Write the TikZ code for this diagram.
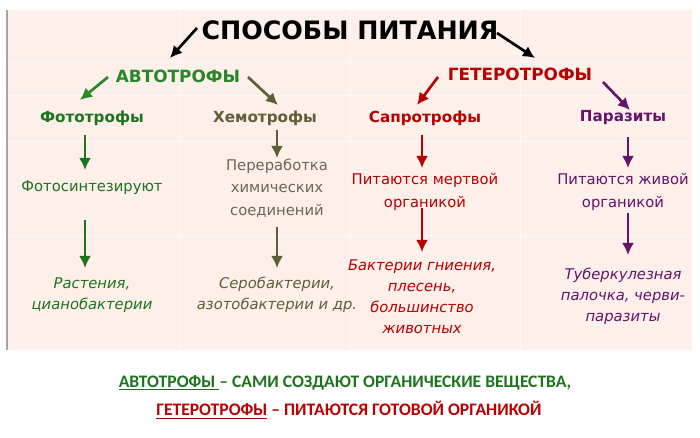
\documentclass[tikz,border=0pt]{standalone}
\usepackage{fontspec}
\setmainfont{DejaVu Sans}
\newfontfamily\calfont{Carlito}
\usetikzlibrary{arrows.meta,calc}
\definecolor{bgpink}{RGB}{253,239,234}
\definecolor{autogreen}{RGB}{40,135,40}
\definecolor{photogreen}{RGB}{30,115,30}
\definecolor{chemolive}{RGB}{95,95,55}
\definecolor{chemgrey}{RGB}{105,105,80}
\definecolor{saprored}{RGB}{185,0,0}
\definecolor{parapurple}{RGB}{100,20,105}

\begin{document}
\begin{tikzpicture}[x=0.025cm,y=-0.025cm,
    arr/.style={-{Latex[length=3mm,width=3mm]},line width=1.9pt},
    hd/.style={font=\bfseries\fontsize{12}{14}\selectfont},
    sub/.style={font=\bfseries\fontsize{10.8}{13}\selectfont},
    txt/.style={font=\fontsize{10.5}{16}\selectfont,align=center},
    ex/.style={font=\itshape\fontsize{10.5}{15}\selectfont,align=center}]
    \useasboundingbox (0,0) rectangle (700,438);
    % table background
    \fill[bgpink] (7,10) rectangle (692,350);
    \foreach \y in {62,95,141,235}{\draw[white,opacity=0.6,line width=0.6pt] (7,\y) -- (692,\y);}
    \foreach \x in {180,350,520}{\draw[white,opacity=0.6,line width=0.6pt] (\x,10) -- (\x,350);}
    \draw[gray!70,line width=1.3pt] (7,10) -- (7,350);

    \node[font=\bfseries\fontsize{18}{22}\selectfont] (title) at (350,30) {СПОСОБЫ ПИТАНИЯ};
    \node[hd,text=autogreen] (auto) at (178,76) {АВТОТРОФЫ};
    \node[hd,text=saprored] (hetero) at (520,74) {ГЕТЕРОТРОФЫ};

    \node[sub,text=photogreen] (photo) at (92,118) {Фототрофы};
    \node[sub,text=chemolive] (chemo) at (265,118) {Хемотрофы};
    \node[sub,text=saprored] (sapro) at (425,118) {Сапротрофы};
    \node[sub,text=parapurple] (para) at (623,118) {Паразиты};

    \node[txt,text=photogreen] (photosyn) at (92,188) {Фотосинтезируют};
    \node[txt,text=chemgrey] (chemtxt) at (277,188) {Переработка\\химических\\соединений};
    \node[txt,text=saprored] (saprotxt) at (425,192) {Питаются мертвой\\органикой};
    \node[txt,text=parapurple] (paratxt) at (623,192) {Питаются живой\\органикой};

    \node[ex,text=photogreen] (plants) at (92,295) {Растения,\\цианобактерии};
    \node[ex,text=chemolive] (chemex) at (277,295) {Серобактерии,\\азотобактерии и др.};
    \node[ex,text=saprored] (saproex) at (422,297) {Бактерии гниения,\\плесень,\\большинство\\животных};
    \node[ex,text=parapurple] (paraex) at (623,296) {Туберкулезная\\палочка, черви-\\паразиты};

    % arrows between levels
    \draw[arr] ($(title)+(-153,-2)$) -- ($(auto)+(-8,-18)$);
    \draw[arr] ($(title)+(147,3)$) -- ($(hetero)+(15,-16)$);
    \draw[arr,autogreen] ($(auto)+(-70,1)$) -- ($(photo)+(-12,-18)$);
    \draw[arr,chemolive] ($(auto)+(70,1)$) -- ($(chemo)+(13,-13)$);
    \draw[arr,saprored] ($(hetero)+(-82,3)$) -- ($(sapro)+(-8,-13)$);
    \draw[arr,parapurple] ($(hetero)+(83,8)$) -- ($(para)+(7,-8)$);
    \foreach \a/\b/\dxa/\dya/\dxb/\dyb/\c in {photo/photosyn/-7/17/-7/-18/photogreen,
        chemo/chemtxt/12/12/0/-30/chemolive,sapro/saprotxt/-3/17/-3/-24/saprored,
        para/paratxt/5/19/5/-24/parapurple,photosyn/plants/-7/32/-7/-27/photogreen,
        chemtxt/chemex/0/39/0/-27/chemolive,saprotxt/saproex/-3/16/0/-45/saprored,
        paratxt/paraex/5/21/5/-41/parapurple}
        {\draw[arr,\c] ($(\a)+(\dxa,\dya)$) -- ($(\b)+(\dxb,\dyb)$);}

    \node[font=\calfont\bfseries\fontsize{12.5}{15}\selectfont,text=photogreen] (sumauto) at (345,383)
        {\underline{АВТОТРОФЫ }– САМИ СОЗДАЮТ ОРГАНИЧЕСКИЕ ВЕЩЕСТВА,};
    \node[font=\calfont\bfseries\fontsize{12.5}{15}\selectfont,text=saprored] (sumhetero) at (349,410)
        {\underline{ГЕТЕРОТРОФЫ} – ПИТАЮТСЯ ГОТОВОЙ ОРГАНИКОЙ};
\end{tikzpicture}
\end{document}
